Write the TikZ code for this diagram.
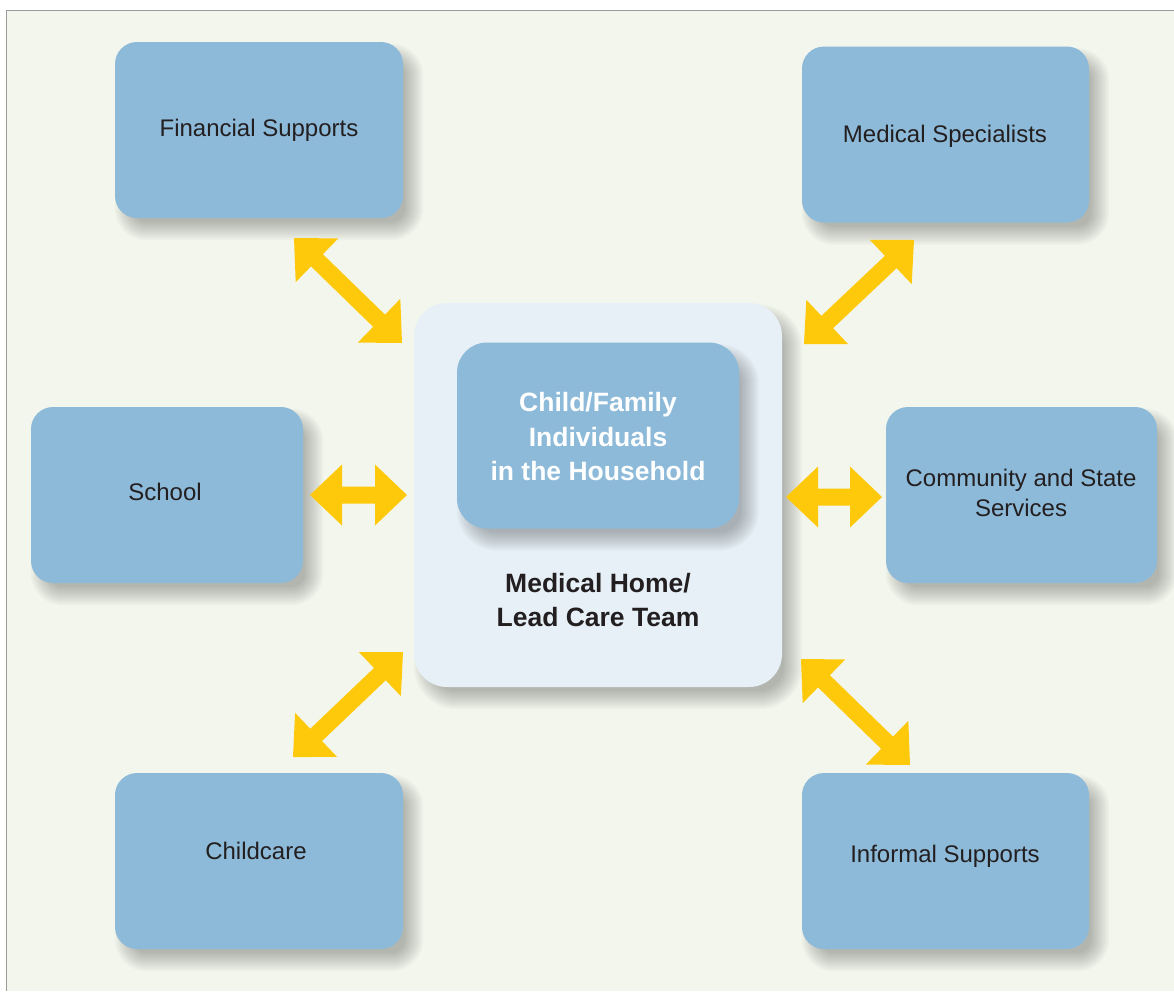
\documentclass[tikz,border=0pt]{standalone}
\usepackage{fontspec}
\setmainfont{Liberation Sans}
\usetikzlibrary{calc}
\definecolor{bg}{HTML}{F3F6ED}
\definecolor{boxblue}{HTML}{8DBAD9}
\definecolor{homebg}{HTML}{E6F0F6}
\definecolor{arrowy}{HTML}{FFC90B}
\definecolor{txt}{HTML}{231F20}
\definecolor{framegray}{HTML}{9A9A9A}
\pgfdeclarelayer{back}
\pgfdeclarelayer{shade}
\pgfdeclarelayer{shadetwo}
\pgfdeclarelayer{front}
\pgfsetlayers{back,shade,main,shadetwo,front}
% double-headed block arrow between two named coordinates
\newcommand\yarr[2]{%
  \coordinate (#1h) at ($(#1)!32pt!(#2)$);
  \coordinate (#2h) at ($(#2)!32pt!(#1)$);
  \fill[arrowfill] (#1)
    -- ($(#1h)!30.5pt!90:(#2)$) -- ($(#1h)!8.5pt!90:(#2)$)
    -- ($(#2h)!8.5pt!-90:(#1)$) -- ($(#2h)!30.5pt!-90:(#1)$)
    -- (#2)
    -- ($(#2h)!30.5pt!90:(#1)$) -- ($(#2h)!8.5pt!90:(#1)$)
    -- ($(#1h)!8.5pt!-90:(#2)$) -- ($(#1h)!30.5pt!-90:(#2)$)
    -- cycle;}
% soft drop shadow behind a named node (#2 = corner radius)
\newcommand\dropshadow[2]{%
  \foreach \k in {-8,-6,...,10}{%
    \pgfmathsetmacro\rr{max(#2+\k,0.5)}%
    \pgfmathsetmacro\ax{10-\k}\pgfmathsetmacro\ay{12+\k}%
    \pgfmathsetmacro\bx{10+\k}\pgfmathsetmacro\by{12-\k}%
    \fill[black,fill opacity=0.027,rounded corners=\rr pt]
      ($(#1.south west)+(\ax,\ay)$) rectangle ($(#1.north east)+(\bx,\by)$);}}
\begin{document}
\begin{tikzpicture}[x=1pt,y=-1pt,
  outerbox/.style={rectangle,rounded corners=22pt,fill=boxblue,inner sep=0pt,minimum height=176pt},
  homebox/.style={rectangle,rounded corners=33pt,fill=homebg,inner sep=0pt,minimum width=368pt,minimum height=384pt},
  innerbox/.style={rectangle,rounded corners=30pt,fill=boxblue,inner sep=0pt,minimum width=282pt,minimum height=186pt},
  plaintext/.style={text=txt,align=center,inner sep=0pt,font=\fontsize{24}{30}\selectfont},
  boldtext/.style={align=center,inner sep=0pt,font=\bfseries\fontsize{26.5}{34.5}\selectfont},
  arrowfill/.style={fill=arrowy}]
\useasboundingbox (0,0) rectangle (1174,991);
\begin{pgfonlayer}{back}
\fill[white] (0,0) rectangle (1174,991);
\fill[bg] (6.5,10.5) rectangle (1174,991);
\draw[framegray,line width=1.6pt] (6.5,991) -- (6.5,10.5) -- (1174,10.5);
\end{pgfonlayer}

% boxes
\node[outerbox,minimum width=288pt] (fin) at (259,130) {};
\node[outerbox,minimum width=287pt] (spec) at (945.5,134.5) {};
\node[outerbox,minimum width=272pt] (school) at (167,495) {};
\node[outerbox,minimum width=271pt] (comm) at (1021.5,495) {};
\node[outerbox,minimum width=288pt] (child) at (259,861) {};
\node[outerbox,minimum width=287pt] (inf) at (945.5,861) {};
\node[homebox] (home) at (598,495) {};
\begin{pgfonlayer}{front}
\node[innerbox] (family) at (598,435.5) {};
\end{pgfonlayer}

% shadows
\begin{pgfonlayer}{shade}
\dropshadow{fin}{22}
\dropshadow{spec}{22}
\dropshadow{school}{22}
\dropshadow{comm}{22}
\dropshadow{child}{22}
\dropshadow{inf}{22}
\dropshadow{home}{33}
\end{pgfonlayer}
\begin{pgfonlayer}{shadetwo}
\dropshadow{family}{30}
\end{pgfonlayer}

% texts
\begin{pgfonlayer}{front}
\node[plaintext] (finT) at (259,130) {Financial Supports};
\node[plaintext] (specT) at (945,136) {Medical Specialists};
\node[plaintext] (schoolT) at (165,492) {School};
\node[plaintext] (commT) at (1021,493) {Community and State\\Services};
\node[plaintext] (childT) at (256,851) {Childcare};
\node[plaintext] (infT) at (945,856) {Informal Supports};
\node[boldtext,text=white] (familyT) at (598,437) {Child/Family\\Individuals\\in the Household};
\node[boldtext,text=txt] (homeT) at (598,600) {Medical Home/\\Lead Care Team};
\end{pgfonlayer}

% arrow end points
\coordinate (fa) at (294,238);  \coordinate (fb) at (402,343);
\coordinate (sa) at (914,240);  \coordinate (sb) at (804,344);
\coordinate (sca) at (310,495); \coordinate (scb) at (407,495);
\coordinate (ca) at (882,497);  \coordinate (cb) at (786,497);
\coordinate (cha) at (293,757); \coordinate (chb) at (403,652);
\coordinate (ia) at (910,765);  \coordinate (ib) at (801,659);

\yarr{fa}{fb}
\yarr{sa}{sb}
\yarr{sca}{scb}
\yarr{ca}{cb}
\yarr{cha}{chb}
\yarr{ia}{ib}
\end{tikzpicture}
\end{document}
